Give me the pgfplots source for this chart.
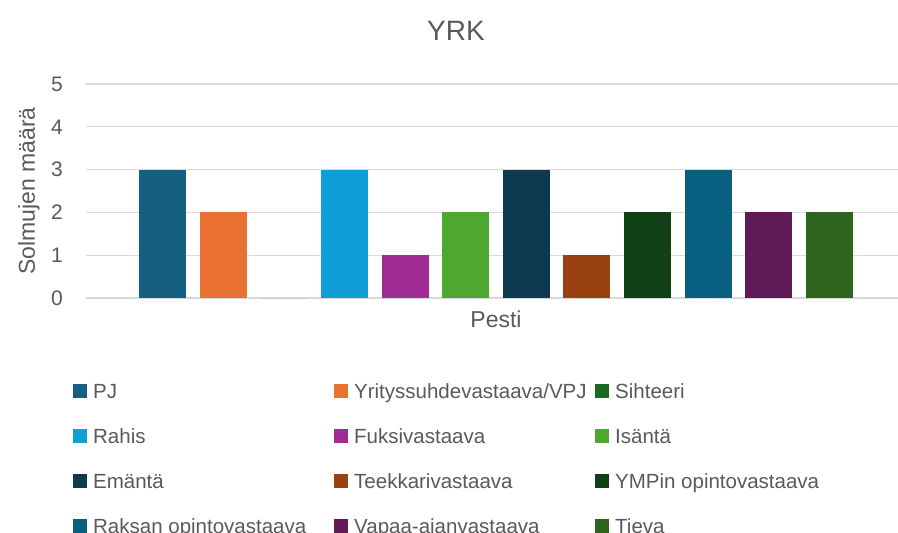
\documentclass[border=0pt]{standalone}
\usepackage{pgfplots}
\pgfplotsset{compat=1.18}
\usepackage{fontspec}
\setmainfont{Liberation Sans}
\definecolor{c1}{HTML}{156082}
\definecolor{c2}{HTML}{E97132}
\definecolor{c3}{HTML}{196B24}
\definecolor{c4}{HTML}{0F9ED5}
\definecolor{c5}{HTML}{A02B93}
\definecolor{c6}{HTML}{4EA72E}
\definecolor{c7}{HTML}{0D3A4E}
\definecolor{c8}{HTML}{994111}
\definecolor{c9}{HTML}{0F4016}
\definecolor{c10}{HTML}{095F80}
\definecolor{c11}{HTML}{601A58}
\definecolor{c12}{HTML}{2F641C}
\definecolor{txt}{HTML}{595959}
\definecolor{gridc}{HTML}{D9D9D9}
\pgfplotsset{myleg/.style={legend image code/.code={\path[##1,draw=none] (0pt,-7pt) rectangle (14pt,7pt);}}}
\newcommand{\lgi}[1]{\makebox[241pt][l]{\strut #1}}
\begin{document}
\begin{tikzpicture}
\path[use as bounding box] (0,0) rectangle (898pt,-533pt);
\node[text=txt,font=\fontsize{28}{34}\selectfont] at (456pt,-31pt) {YRK};
\begin{axis}[
  at={(86pt,-298pt)}, anchor=south west,
  scale only axis, width=820pt, height=214pt,
  xmin=-410, xmax=410, ymin=0, ymax=5,
  ybar=13.6pt, bar width=47pt,
  xtick=\empty, ytick={0,1,2,3,4,5},
  ymajorgrids, grid style={gridc, line width=1.2pt},
  axis line style={draw=none},
  major tick length=0pt,
  tick label style={text=txt, font=\fontsize{21}{25}\selectfont},
  /pgf/number format/assume math mode=true,
  yticklabel style={inner sep=0pt, xshift=-23pt},
  xlabel={Pesti}, ylabel={Solmujen määrä},
  label style={text=txt, font=\fontsize{23}{28}\selectfont},
  xlabel style={at={(axis description cs:0.5,-0.14)}, anchor=base},
  ylabel style={at={(axis description cs:-0.0695,0.5)}, anchor=center},
  every axis plot post/.append style={myleg},
  legend columns=3,
  legend cell align=left,
  legend style={at={(axis description cs:-0.01585,-0.392)}, anchor=north west,
    draw=none, fill=none, inner sep=0pt, text=txt,
    font=\fontsize{20.5}{24}\selectfont, row sep=26.5pt,
    nodes={inner sep=0pt},
    /tikz/every odd column/.append style={column sep=6pt}},
]
\addplot[fill=c1, draw=none] coordinates {(0,3)};
\addplot[fill=c2, draw=none] coordinates {(0,2)};
\addplot[fill=c3, draw=none] coordinates {(0,0)};
\addplot[fill=c4, draw=none] coordinates {(0,3)};
\addplot[fill=c5, draw=none] coordinates {(0,1)};
\addplot[fill=c6, draw=none] coordinates {(0,2)};
\addplot[fill=c7, draw=none] coordinates {(0,3)};
\addplot[fill=c8, draw=none] coordinates {(0,1)};
\addplot[fill=c9, draw=none] coordinates {(0,2)};
\addplot[fill=c10, draw=none] coordinates {(0,3)};
\addplot[fill=c11, draw=none] coordinates {(0,2)};
\addplot[fill=c12, draw=none] coordinates {(0,2)};
\legend{\lgi{PJ},\lgi{Yrityssuhdevastaava/VPJ},\lgi{Sihteeri},
\lgi{Rahis},\lgi{Fuksivastaava},\lgi{Isäntä},
\lgi{Emäntä},\lgi{Teekkarivastaava},\lgi{YMPin opintovastaava},
\lgi{Raksan opintovastaava},\lgi{Vapaa-ajanvastaava},\lgi{Tieva}}
\end{axis}
\end{tikzpicture}
\end{document}
